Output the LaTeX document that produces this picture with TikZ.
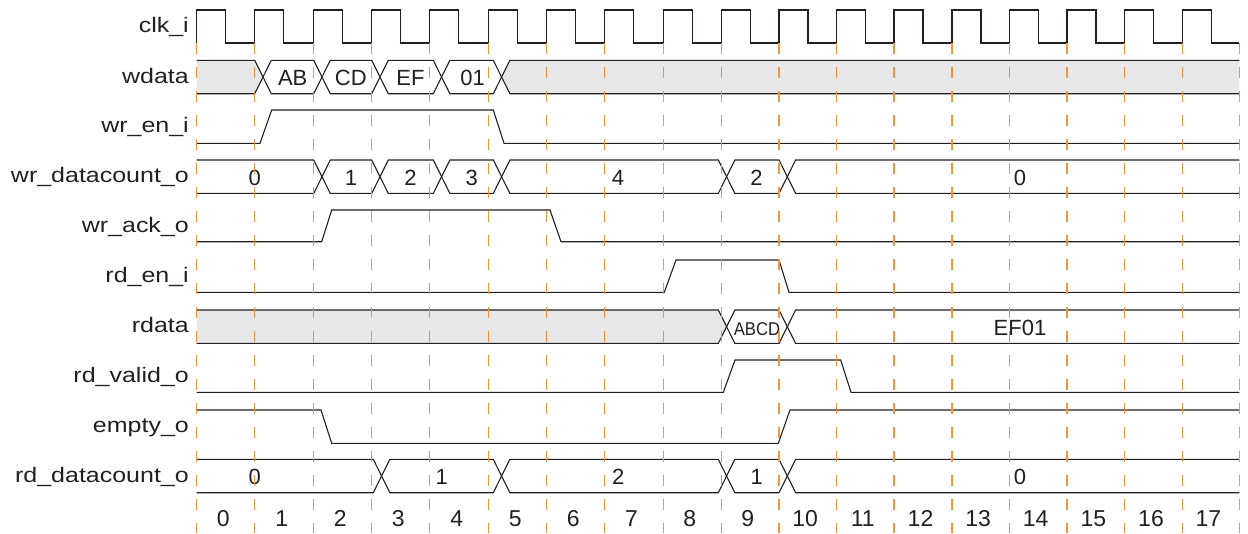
\documentclass[tikz,border=0pt]{standalone}
\usepackage{fontspec}
\setmainfont{Liberation Sans}
\newfontfamily\labfont[FakeStretch=1.19]{Liberation Sans}
\definecolor{gridor}{RGB}{245,148,62}
\definecolor{busgrey}{RGB}{230,231,232}
\definecolor{sig}{RGB}{35,31,32}
\def\GXlist{196.7,254.7,313.7,371.7,429.7,488.7,546.7,604.7,663.3,721.3,779,836.3,894,952,1009.3,1067,1124.7,1182.3,1239.3}
\def\CKlist{196.7,254.7,313.7,371.7,429.7,488.7,546.7,604.7,663.3,721.3,779,836.3,894,952,1009.3,1067,1124.7,1182.3}
\newcommand\bushex[4]{%
  \filldraw[sigline,fill=#4] ({#1+8.3},{#3+16.7}) -- ({#1+16.6},#3) -- (#2,#3) -- ({#2+8.3},{#3+16.7}) -- (#2,{#3+33.4}) -- ({#1+16.6},{#3+33.4}) -- cycle;}
\newcommand\busstart[3]{%
  \fill[#3] (196.7,#2) -- (#1,#2) -- ({#1+8.3},{#2+16.7}) -- (#1,{#2+33.4}) -- (196.7,{#2+33.4}) -- cycle;
  \draw[sigline] (196.7,#2) -- (#1,#2) -- ({#1+8.3},{#2+16.7}) -- (#1,{#2+33.4}) -- (196.7,{#2+33.4});}
\newcommand\busend[3]{%
  \fill[#3] (1239.3,#2) -- ({#1+16.6},#2) -- ({#1+8.3},{#2+16.7}) -- ({#1+16.6},{#2+33.4}) -- (1239.3,{#2+33.4}) -- cycle;
  \draw[sigline] (1239.3,#2) -- ({#1+16.6},#2) -- ({#1+8.3},{#2+16.7}) -- ({#1+16.6},{#2+33.4}) -- (1239.3,{#2+33.4});}
\begin{document}
\begin{tikzpicture}[x=1pt,y=-1pt,
  sigline/.style={draw=sig,line width=1.1pt,line join=miter},
  gridline/.style={draw=gridor,line width=1.3pt,dash pattern=on 11pt off 13pt},
  lab/.style={anchor=base east,inner sep=0pt,font=\labfont\fontsize{21}{21}\selectfont,text=sig},
  val/.style={anchor=base,inner sep=0pt,font=\fontsize{22}{22}\selectfont,text=sig},
  num/.style={anchor=base,inner sep=0pt,font=\fontsize{23}{23}\selectfont,text=sig}]
\useasboundingbox (0,0) rectangle (1248,533);
% labels
\node[lab] (l1) at (189,32.7) {clk\_i};
\node[lab] (l2) at (189,83) {wdata};
\node[lab] (l3) at (189,132.7) {wr\_en\_i};
\node[lab] (l4) at (189,182.7) {wr\_datacount\_o};
\node[lab] (l5) at (189,232.7) {wr\_ack\_o};
\node[lab] (l6) at (189,282.7) {rd\_en\_i};
\node[lab] (l7) at (189,332.7) {rdata};
\node[lab] (l8) at (189,382.7) {rd\_valid\_o};
\node[lab] (l9) at (189,432.7) {empty\_o};
\node[lab] (l10) at (189,482) {rd\_datacount\_o};
% clock
\draw[sigline] (196.7,43) \foreach \x in \CKlist { -- (\x,43) -- (\x,10) -- ({\x+29},10) -- ({\x+29},43) } -- (1239.3,43);
% wdata
\busstart{254.7}{60.3}{busgrey}
\bushex{254.7}{313.7}{60.3}{white}
\bushex{313.7}{371.7}{60.3}{white}
\bushex{371.7}{433.3}{60.3}{white}
\bushex{433.3}{493.3}{60.3}{white}
\busend{493.3}{60.3}{busgrey}
\node[val] (wAB) at (292.7,85) {AB};
\node[val] (wCD) at (350.8,85) {CD};
\node[val] (wEF) at (410.5,85) {EF};
\node[val] (w01) at (472.5,85) {01};
% wr_en_i
\draw[sigline] (196.7,143.3) -- (260,143.3) -- (271.7,110) -- (493.3,110) -- (504,143.3) -- (1239.3,143.3);
% wr_datacount_o
\busstart{313.7}{160}{white}
\bushex{313.7}{371.7}{160}{white}
\bushex{371.7}{433.3}{160}{white}
\bushex{433.3}{493.3}{160}{white}
\bushex{493.3}{718.3}{160}{white}
\bushex{718.3}{779}{160}{white}
\busend{779}{160}{white}
\node[val] (c0) at (254.7,185) {0};
\node[val] (c1) at (351,185) {1};
\node[val] (c2) at (410.5,185) {2};
\node[val] (c3) at (471.7,185) {3};
\node[val] (c4) at (618,185) {4};
\node[val] (c5) at (756.5,185) {2};
\node[val] (c6) at (1020,185) {0};
% wr_ack_o
\draw[sigline] (196.7,241.7) -- (321.7,241.7) -- (331.7,210) -- (550,210) -- (561,241.7) -- (1239.3,241.7);
% rd_en_i
\draw[sigline] (196.7,292.3) -- (664.3,292.3) -- (676,260) -- (779,260) -- (789,292.3) -- (1239.3,292.3);
% rdata
\busstart{718.3}{310}{busgrey}
\bushex{718.3}{779}{310}{white}
\busend{779}{310}{white}
\node[anchor=base,inner sep=0pt,text=sig] (rABCD) at (757,335) {\fontsize{18.5}{18.5}\selectfont\scalebox{0.9}[1]{ABCD}};
\node[val] (rEF) at (1020,335) {EF01};
% rd_valid_o
\draw[sigline] (196.7,392.3) -- (723.3,392.3) -- (735,360) -- (840.7,360) -- (851,392.3) -- (1239.3,392.3);
% empty_o
\draw[sigline] (196.7,410) -- (321,410) -- (331.7,443.3) -- (778.3,443.3) -- (790,410) -- (1239.3,410);
% rd_datacount_o
\busstart{373.3}{459.3}{white}
\bushex{373.3}{493.3}{459.3}{white}
\bushex{493.3}{718.3}{459.3}{white}
\bushex{718.3}{779}{459.3}{white}
\busend{779}{459.3}{white}
\node[val] (d0) at (254.7,484) {0};
\node[val] (d1) at (441.7,484) {1};
\node[val] (d2) at (618.3,484) {2};
\node[val] (d3) at (756.7,484) {1};
\node[val] (d4) at (1020,484) {0};
% cycle numbers
\foreach \k/\cx in {0/223.2,1/281.7,2/340.2,3/398.2,4/456.7,5/515.2,6/573.2,7/631.5,8/689.8,9/747.7,10/805.2,11/862.7,12/920.5,13/978.2,14/1035.7,15/1093.4,16/1151,17/1208.3}{
  \node[num] (n\k) at (\cx,526.5) {\k};
}
% grid lines
\foreach \x in \GXlist {
  \draw[gridline] (\x,43) -- (\x,533);
}
\end{tikzpicture}
\end{document}
